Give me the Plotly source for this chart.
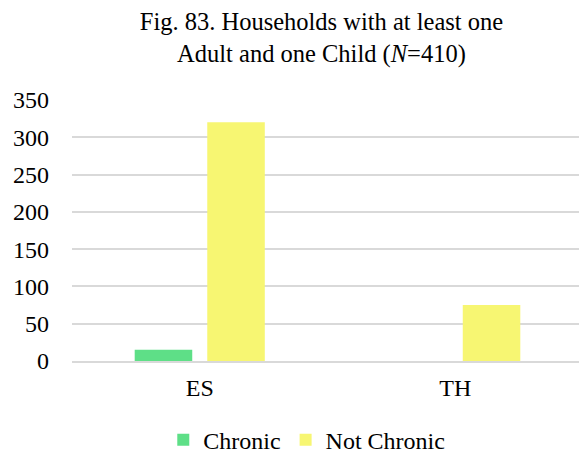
import plotly.graph_objects as go

categories = ["ES", "TH"]
chronic = [15, 0]
not_chronic = [320, 75]
series_names = ["Chronic", "Not Chronic"]
y_ticks = [0, 50, 100, 150, 200, 250, 300, 350]

FONT = "Liberation Serif, Times New Roman, serif"

fig = go.Figure()
fig.add_trace(go.Bar(x=categories, y=chronic, name=series_names[0],
                     marker=dict(color="#5EDF87", line=dict(width=0))))
fig.add_trace(go.Bar(x=categories, y=not_chronic, name=series_names[1],
                     marker=dict(color="#F7F672", line=dict(width=0))))

fig.update_layout(
    width=587, height=454,
    margin=dict(l=64, r=12, t=92, b=101, autoexpand=False),
    paper_bgcolor="white", plot_bgcolor="white",
    font=dict(family=FONT, size=24, color="#000000"),
    title=dict(text="Fig. 83. Households with at least one<br>Adult and one Child (<i>N</i>=410)",
               x=0.534, xanchor="center", xref="container",
               y=0.952, yanchor="top", yref="container",
               font=dict(family=FONT, size=24.5, color="#000000")),
    barmode="group", bargap=0.432, bargroupgap=0.207,
    showlegend=True,
    legend=dict(orientation="h", x=0.509, xanchor="center", xref="container",
                y=0.048, yanchor="middle", yref="container",
                font=dict(family=FONT, size=24), itemwidth=30,
                traceorder="normal"),
    xaxis=dict(showgrid=False, showline=True, linecolor="#D9D9D9", linewidth=1.5,
               ticks="", ticklabelstandoff=4, automargin=False,
               tickfont=dict(family=FONT, size=24)),
    yaxis=dict(range=[0, 350], tickvals=y_ticks, showgrid=True, gridcolor="#D9D9D9",
               gridwidth=1.5, zeroline=False, showline=False, ticks="",
               ticklabelstandoff=22, automargin=False,
               tickfont=dict(family=FONT, size=24)),
)

fig.write_html("out.html")
